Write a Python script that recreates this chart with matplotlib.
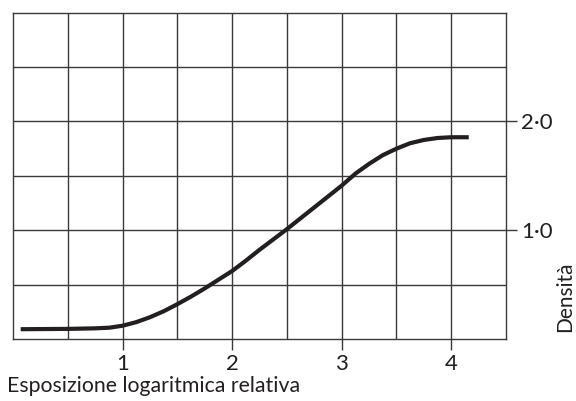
import numpy as np
from matplotlib import pyplot as plt

# curve (log relative exposure -> density)
log_exposure = [0.07, 0.5, 0.75, 0.88, 1.0, 1.125, 1.25, 1.375, 1.5, 1.625, 1.75, 1.875,
                2.0, 2.125, 2.25, 2.375, 2.5, 2.625, 2.75, 2.875, 3.0, 3.125, 3.25,
                3.375, 3.5, 3.625, 3.75, 3.875, 4.0, 4.16]
density = [0.09, 0.093, 0.098, 0.104, 0.122, 0.155, 0.20, 0.255, 0.32, 0.39, 0.465, 0.545,
           0.625, 0.72, 0.82, 0.915, 1.01, 1.11, 1.21, 1.31, 1.41, 1.52, 1.61,
           1.69, 1.75, 1.80, 1.83, 1.848, 1.855, 1.855]

x_ticks = [1, 2, 3, 4]
y_ticks = [1.0, 2.0]
y_tick_labels = ['1·0', '2·0']

ink = '#231f20'
grid_col = '#3a3a3a'

plt.rcParams['font.family'] = ['Lato', 'DejaVu Sans']

fig = plt.figure(figsize=(5.76, 4.01), dpi=100)
ax = fig.add_axes([13 / 576, 1 - 339 / 401, 493 / 576, 326.3 / 401])

ax.plot(log_exposure, density, color=ink, linewidth=3.0,
        solid_capstyle='butt', solid_joinstyle='round', zorder=3)

ax.set_xlim(0, 4.5)
ax.set_ylim(0, 3)

ax.set_xticks(x_ticks)
ax.set_xticklabels([str(t) for t in x_ticks])
ax.set_xticks(np.arange(0.5, 4.5, 0.5), minor=True)
ax.yaxis.tick_right()
ax.set_yticks(y_ticks)
ax.set_yticklabels(y_tick_labels)
ax.set_yticks(np.arange(0.5, 3.0, 0.5), minor=True)

ax.tick_params(which='major', direction='out', length=8, width=1.0, color=grid_col,
               labelsize=16, labelcolor=ink, pad=3)
ax.tick_params(which='minor', length=0)
ax.grid(True, which='both', color=grid_col, linewidth=1.0)
ax.set_axisbelow(True)
for sp in ax.spines.values():
    sp.set_color(grid_col)
    sp.set_linewidth(1.0)

fig.text(7 / 576, 1 - 391.7 / 401, 'Esposizione logaritmica relativa',
         ha='left', va='baseline', fontsize=15.3, color=ink)
fig.text(565 / 576, 1 - 297 / 401, 'Densità', rotation=90,
         ha='center', va='center', fontsize=15, color=ink)

plt.savefig('out.png')
plt.close()
